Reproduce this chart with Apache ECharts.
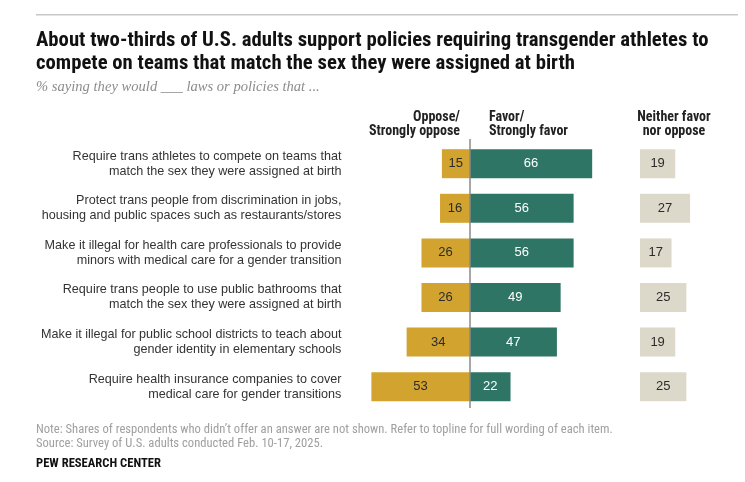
<!DOCTYPE html>
<html><head><meta charset="utf-8">
<script src="https://cdn.jsdelivr.net/npm/echarts@6/dist/echarts.min.js"></script>
<style>html,body{margin:0;padding:0;background:#fff}#c{width:745px;height:482px}</style>
</head><body><div id="c"></div>
<script>
const categories = [
  "Require trans athletes to compete on teams that\nmatch the sex they were assigned at birth",
  "Protect trans people from discrimination in jobs,\nhousing and public spaces such as restaurants/stores",
  "Make it illegal for health care professionals to provide\nminors with medical care for a gender transition",
  "Require trans people to use public bathrooms that\nmatch the sex they were assigned at birth",
  "Make it illegal for public school districts to teach about\ngender identity in elementary schools",
  "Require health insurance companies to cover\nmedical care for gender transitions"
];
const oppose = [15, 16, 26, 26, 34, 53];
const favor = [66, 56, 56, 49, 47, 22];
const neither = [19, 27, 17, 25, 19, 25];

const narrow = '"Liberation Sans Narrow", "Arial Narrow", "Roboto Condensed", sans-serif';
const sans = '"Liberation Sans", Arial, sans-serif';

const chart = echarts.init(document.getElementById('c'), null, {renderer: 'canvas'});
const gTop = 141.4, gH = 267.6;
chart.setOption({
  animation: false,
  grid: [
    {left: 358.4, top: gTop, width: 241.2, height: gH},
    {left: 640, top: gTop, width: 74.2, height: gH}
  ],
  xAxis: [
    {gridIndex: 0, type: 'value', min: -60, max: 70, show: false},
    {gridIndex: 1, type: 'value', min: 0, max: 40, show: false}
  ],
  yAxis: [
    {gridIndex: 0, type: 'category', data: categories, inverse: true,
     axisLine: {show: false}, axisTick: {show: false}, splitLine: {show: false},
     axisLabel: {align: 'right', margin: 17, fontFamily: sans, fontSize: 12.6, lineHeight: 15, color: '#333'}},
    {gridIndex: 1, type: 'category', data: categories, inverse: true, show: false}
  ],
  series: [
    {type: 'bar', name: 'Oppose', xAxisIndex: 0, yAxisIndex: 0, stack: 'a', barWidth: 29,
     data: oppose.map(v => -v), itemStyle: {color: '#d2a42f'},
     label: {show: true, position: 'inside', formatter: p => Math.abs(p.value), color: '#2b2b2b', fontFamily: sans, fontSize: 13},
     markLine: {silent: true, symbol: 'none', label: {show: false}, lineStyle: {color: '#8a8a8a', width: 1.5, type: 'solid'},
       data: [[{coord: [0, 0], y: 139}, {coord: [0, 5], y: 408}]]}},
    {type: 'bar', name: 'Favor', xAxisIndex: 0, yAxisIndex: 0, stack: 'a', barWidth: 29,
     data: favor, itemStyle: {color: '#2f7565'},
     label: {show: true, position: 'inside', color: '#ffffff', fontFamily: sans, fontSize: 13}},
    {type: 'bar', name: 'Neither', xAxisIndex: 1, yAxisIndex: 1, barWidth: 29,
     data: neither, itemStyle: {color: '#dcd9ca'},
     label: {show: true, position: 'inside', color: '#2b2b2b', fontFamily: sans, fontSize: 13}}
  ],
  graphic: [
    {type: 'rect', shape: {x: 36, y: 14, width: 702, height: 1.5}, style: {fill: '#c8c8c8'}},
    {type: 'text', x: 36, y: 29.5, style: {text: 'About two-thirds of U.S. adults support policies requiring transgender athletes to\ncompete on teams that match the sex they were assigned at birth',
      font: 'bold 20.7px ' + narrow, fill: '#111', lineHeight: 23}},
    {type: 'text', x: 36, y: 79.5, style: {text: '% saying they would ___ laws or policies that ...',
      font: 'italic 14.6px "Liberation Serif", "DejaVu Serif", serif', fill: '#8c8c8c'}},
    {type: 'text', x: 460, y: 110, style: {text: 'Oppose/\nStrongly oppose', align: 'right',
      font: 'bold 14px ' + narrow, fill: '#222', lineHeight: 14.5}},
    {type: 'text', x: 489, y: 110, style: {text: 'Favor/\nStrongly favor', align: 'left',
      font: 'bold 14px ' + narrow, fill: '#222', lineHeight: 14.5}},
    {type: 'text', x: 674, y: 110, style: {text: 'Neither favor\nnor oppose', align: 'center',
      font: 'bold 14px ' + narrow, fill: '#222', lineHeight: 14.5}},
    {type: 'text', x: 36, y: 422.5, style: {text: 'Note: Shares of respondents who didn\u2019t offer an answer are not shown. Refer to topline for full wording of each item.\nSource: Survey of U.S. adults conducted Feb. 10-17, 2025.',
      font: '12.6px ' + narrow, fill: '#a0a0a0', lineHeight: 14.5}},
    {type: 'text', x: 36, y: 457.5, style: {text: 'PEW RESEARCH CENTER', font: 'bold 12.6px ' + narrow, fill: '#111'}}
  ]
});
</script></body></html>
